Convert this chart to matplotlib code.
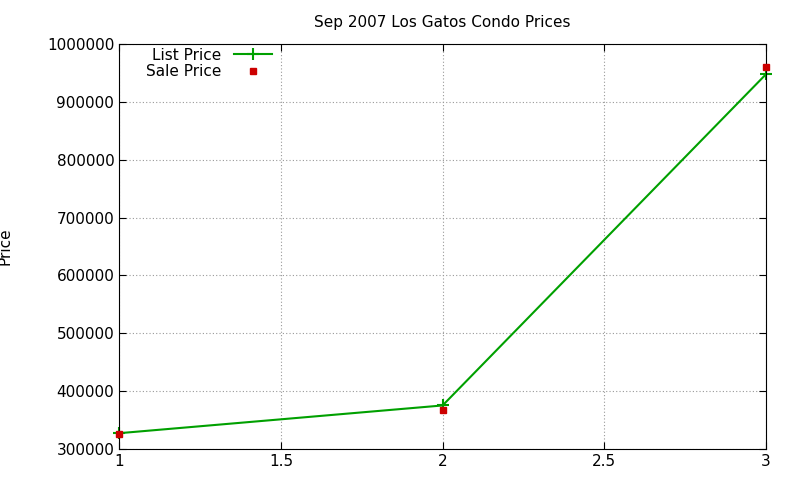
import matplotlib
matplotlib.use("Agg")
import matplotlib.pyplot as plt

x = [1, 2, 3]
list_price = [327000, 375000, 948000]
sale_price = [325000, 367000, 960000]
yticks = list(range(300000, 1000001, 100000))

fig = plt.figure(figsize=(8, 4.8), dpi=100)
ax = fig.add_axes([0.149, 0.065, 0.8085, 0.843])

ax.plot(x, list_price, color='#00a000', lw=1.5, marker='+', ms=8, mew=1.5,
        label='List Price', clip_on=False)
ax.plot(x, sale_price, ls='none', color='#cc0000', marker='s', ms=5,
        label='Sale Price', clip_on=False, zorder=3)

ax.set_xlim(1, 3)
ax.set_ylim(300000, 1000000)
ax.set_xticks([1, 1.5, 2, 2.5, 3])
ax.set_xticklabels(['1', '1.5', '2', '2.5', '3'])
ax.set_yticks(yticks)
ax.set_yticklabels([str(v) for v in yticks])
ax.grid(True, color='#999999', ls=(0, (1, 2)), lw=0.8)
ax.tick_params(direction='in', length=5, labelsize=11, top=True, right=True)
ax.set_title('Sep 2007 Los Gatos Condo Prices', fontsize=11, pad=12)
ax.set_ylabel('Price', fontsize=11, labelpad=25)

ax.legend(loc='upper left', markerfirst=False, frameon=False, fontsize=11,
          handlelength=2.5, borderaxespad=0.1, labelspacing=0.1,
          bbox_to_anchor=(0.03, 1.01))

fig.savefig('out.png')
